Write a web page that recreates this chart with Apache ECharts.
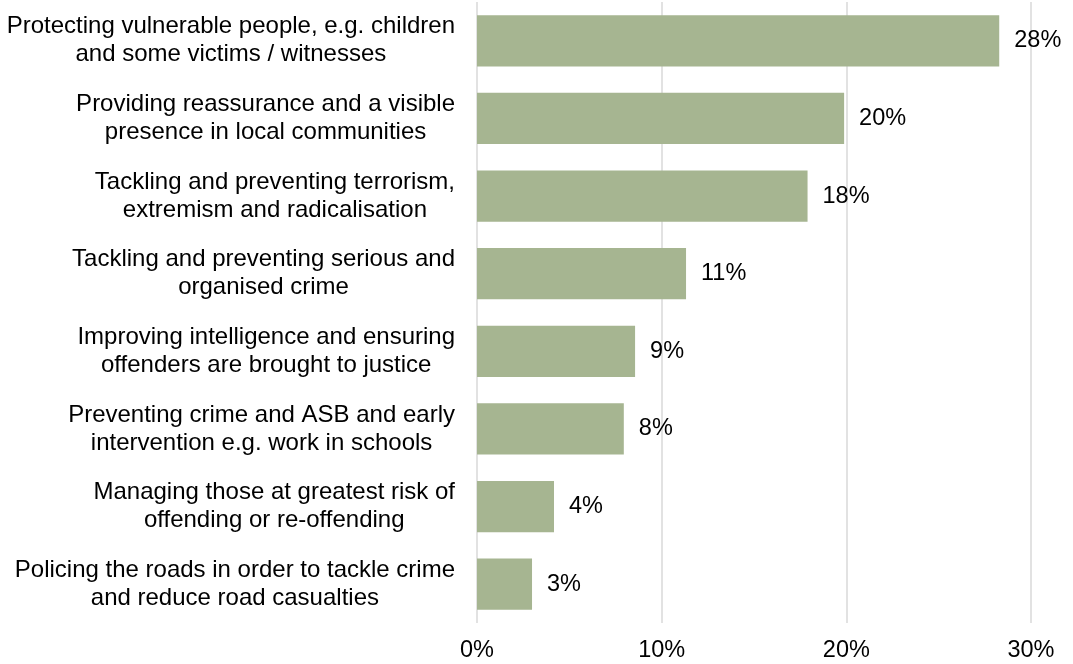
<!DOCTYPE html>
<html>
<head>
<meta charset="utf-8">
<script src="https://cdn.jsdelivr.net/npm/echarts@6/dist/echarts.min.js"></script>
<style>
html,body{margin:0;padding:0;background:#fff;}
#chart{width:1073px;height:664px;}
</style>
</head>
<body>
<div id="chart"></div>
<script>
var categories = [
  "Protecting vulnerable people, e.g. children\nand some victims / witnesses",
  "Providing reassurance and a visible\npresence in local communities",
  "Tackling and preventing terrorism,\nextremism and radicalisation",
  "Tackling and preventing serious and\norganised crime",
  "Improving intelligence and ensuring\noffenders are brought to justice",
  "Preventing crime and ASB and early\nintervention e.g. work in schools",
  "Managing those at greatest risk of\noffending or re-offending",
  "Policing the roads in order to tackle crime\nand reduce road casualties"
];
var values = [28.28, 19.88, 17.9, 11.32, 8.56, 7.95, 4.17, 2.98];
var xTicks = [0, 10, 20, 30];

var FONT = '"Liberation Sans", Arial, sans-serif';
var chart = echarts.init(document.getElementById('chart'));
chart.setOption({
  animation: false,
  backgroundColor: '#ffffff',
  grid: {left: 477, right: 42, top: 2, bottom: 41, containLabel: false},
  xAxis: {
    type: 'value',
    min: xTicks[0],
    max: xTicks[xTicks.length - 1],
    interval: xTicks[1] - xTicks[0],
    axisLine: {show: false},
    axisTick: {show: false},
    splitLine: {show: true, lineStyle: {color: '#d9d9d9', width: 1.5}},
    axisLabel: {
      margin: 16,
      fontFamily: FONT,
      fontSize: 23.5,
      color: '#000',
      formatter: function (v) { return v + '%'; }
    }
  },
  yAxis: {
    type: 'category',
    inverse: true,
    data: categories,
    axisLine: {show: false},
    axisTick: {show: false},
    axisLabel: {
      margin: 22,
      align: 'right',
      formatter: function (v) {
        return v.split('\n').map(function (l) { return '{c|' + l + '}'; }).join('\n');
      },
      rich: {
        c: {align: 'center', fontFamily: FONT, fontSize: 24, lineHeight: 28, color: '#000'}
      }
    }
  },
  series: [{
    type: 'bar',
    data: values,
    barCategoryGap: '34%',
    itemStyle: {color: '#a6b591'},
    label: {
      show: true,
      position: 'right',
      distance: 15,
      fontFamily: FONT,
      fontSize: 23.5,
      color: '#000',
      formatter: function (p) { return Math.round(p.value) + '%'; }
    }
  }]
});
</script>
</body>
</html>
